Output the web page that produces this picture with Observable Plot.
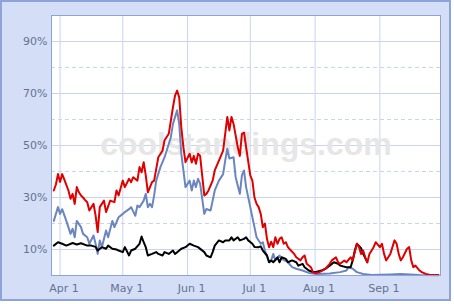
<!DOCTYPE html>
<html><head><meta charset="utf-8">
<script src="https://cdn.jsdelivr.net/npm/d3@7"></script>
<script src="https://cdn.jsdelivr.net/npm/@observablehq/plot@0.6"></script>
<style>body{margin:0;background:#fff}</style>
</head><body><div id="chart"></div>
<script>
// Day offsets are counted from 2008-03-29
const redDays = [0,1,2,3,4,5,7,8,9,10,11,12,13,14,15,16,17,19,20,21,22,24,25,27,29,30,31,33,34,36,37,38,40,41,42,43,44,45,47,48,49,50,52,53,55,56,57,58,59,60,61,62,63,65,66,67,68,69,70,72,73,74,76,77,79,81,82,83,84,85,86,88,89,90,91,92,94,95,96,97,98,99,100,101,102,103,104,105,106,107,108,109,110,111,112,113,115,116,118,119,120,121,123,124,125,127,128,130,132,133,135,136,137,139,140,142,143,145,146,147,148,149,150,151,153,154,156,157,158,159,161,162,163,164,165,166,167,169,170,171,172,173,175,176,178,180,184];
const redPct = [32.7,35,39,36,39,37,32.7,29.5,31.4,27.5,34,32,30.8,30,29,28.2,25,27.6,23,16.7,26.3,28.8,24.4,28.8,28.2,32.7,30.8,36.5,34,37.2,35.9,37.8,36.5,41.7,39.7,43.6,38.5,32,35.9,36.5,41,45.5,48,52,54.5,59.6,64.7,69.2,71.1,68.5,57,49.4,43.6,46.8,43.5,46,43,46.8,46,30.8,31.4,32.7,36.5,40.4,44.2,48,54.5,61,55.8,61,58.3,49.4,46,54.5,55,49.4,38.5,36.5,30,27.6,26.3,23.7,18.6,20,14,10.9,13,10.9,14.7,12.2,14.1,14.7,12.2,12.8,10.9,10,8.3,7,5.8,7,7.7,4.5,3.2,1.3,0.9,1.3,1.7,2.6,4.5,5.8,7,5.1,4.5,5.8,5.1,7,5.8,12.2,11,8.3,9.6,7,5.1,8.3,10.9,12.8,10.9,12.2,8.3,5.8,8.3,10.9,13.5,12.2,8.3,5.8,7,10.3,10.9,5.8,3.2,3.8,1.9,1.3,0.6,0.2,0.2];

const blueDays = [0,2,3,4,6,8,9,10,11,13,14,16,17,19,20,21,22,23,25,26,28,29,31,33,34,36,37,39,40,41,43,44,45,46,47,48,49,51,53,54,56,57,59,60,61,62,63,65,66,67,68,69,70,72,73,75,76,77,79,81,82,83,84,86,87,89,90,91,92,94,95,96,97,99,100,101,103,104,105,106,108,109,112,114,116,119,122,126,132,137,140,141,143,145,148,152,161,166,175,184];
const bluePct = [21,26.3,23.7,25.5,21,16,18,14.7,21,18.6,16,14.7,12.2,15.4,12.2,8.3,13.5,10.9,17.3,14.7,21,18.6,22.4,23.7,24.4,25.5,26.3,23,26.9,26.3,28.8,31.4,26.3,27.6,26.3,30.8,36.5,41.7,45.5,48,53.2,58.3,63.5,58.3,46.8,40.4,34,36.5,32.7,36.5,34,37.2,35.3,23.7,25.6,25,28.8,32.7,36.5,39,44.2,48.7,45,45.5,37.8,31.4,38.5,40.4,34,26.3,22.4,18.6,14.7,12.2,12.8,9.6,5.1,5.8,8.3,5.8,7.7,6.4,5.1,3.2,2.6,1.9,1,0.6,0.8,1.3,1.9,3.2,2.6,1.3,0.6,0.2,0.4,0.6,0.2,0.1];

const blackDays = [0,2,4,6,9,11,13,16,18,20,21,23,25,26,28,30,31,33,34,36,37,39,41,42,43,44,45,47,49,50,52,53,55,57,58,60,61,63,65,67,69,72,73,75,76,77,79,81,82,84,85,86,88,89,91,92,93,95,96,98,99,100,102,103,104,105,107,108,109,111,112,114,116,117,119,120,122,124,125,128,130,132,134,136,137,140,142,143,144,145,147,148,150];
const blackPct = [11.5,12.8,12.2,11.5,12.5,11.9,12.4,11.5,11.5,11,9.6,10.9,10.3,11.5,10.3,10,9.6,9,10.9,7.7,9.6,10.3,12.2,15,12.8,10.9,7.7,8.3,9,8.3,7.7,9,8.3,9.6,8.3,9.6,10.3,10.9,12.2,11.5,10.9,9,7.7,7,9,11.5,13.5,12.8,13.5,13.5,14.7,13.5,14.7,13.5,14.1,14.7,13.5,12.2,11,10.9,11.2,9.6,7.7,5.1,5.8,5.1,7,5.1,7,6.4,5.1,5.8,5.1,3.8,4.5,3.2,1.9,1.3,1.3,1.9,2.6,3.8,5.1,4.5,3.8,3.2,3.2,5.8,9.6,12.2,10.5,8.3,5.1];

const monthTickDates = ["2008-04-01","2008-05-01","2008-06-01","2008-07-01","2008-08-01","2008-09-01"];
const monthTickLabels = ["Apr 1","May 1","Jun 1","Jul 1","Aug 1","Sep 1"];
const yLabelTicks = [10,30,50,70,90];
const yDashTicks = [20,40,60,80];
const watermark = "coolstandings.com";

const day0 = Date.UTC(2008, 2, 29);
const toDate = d => new Date(day0 + d * 864e5);
const series = (days, vals) => days.map((d, i) => ({date: toDate(d), value: vals[i]}));
const red = series(redDays, redPct);
const blue = series(blueDays, bluePct);
const black = series(blackDays, blackPct);
const monthTicks = monthTickDates.map(s => new Date(s + "T00:00:00Z"));

const grid = "#c8d5eb";
const labelColor = "#65728f";

const svg = Plot.plot({
  width: 454, height: 304,
  marginLeft: 51, marginRight: 14, marginTop: 15, marginBottom: 29,
  style: {background: "white", fontFamily: "DejaVu Sans, Verdana, sans-serif", fontSize: "11px", color: labelColor},
  x: {type: "utc", domain: [toDate(-1.1), toDate(185)], label: null},
  y: {domain: [0, 100], label: null},
  marks: [
    Plot.frame({fill: "white", stroke: "none"}),
    Plot.ruleY(yDashTicks, {stroke: grid, strokeDasharray: "4,3"}),
    Plot.ruleY(yLabelTicks, {stroke: grid}),
    Plot.ruleX(monthTicks, {stroke: grid}),
    Plot.text([watermark], {text: d => d, frameAnchor: "middle", dy: -1, fontSize: 32, fontWeight: "bold", fontFamily: "Liberation Sans, Arial, sans-serif", fill: "#e6e6e6"}),
    Plot.line(blue, {x: "date", y: "value", stroke: "#6b85c0", strokeWidth: 2}),
    Plot.line(black, {x: "date", y: "value", stroke: "#000000", strokeWidth: 2}),
    Plot.line(red, {x: "date", y: "value", stroke: "#e00000", strokeWidth: 2}),
    Plot.frame({stroke: "#8ea3d9"}),
    Plot.axisY(yLabelTicks, {tickSize: 0, tickPadding: 4, label: null, tickFormat: d => d + "%", fill: labelColor}),
    Plot.axisX(monthTicks, {tickSize: 0, tickPadding: 9, dx: 4, label: null, fill: labelColor,
      tickFormat: d => monthTickLabels[monthTicks.findIndex(t => +t === +d)]})
  ]
});

d3.select(svg).insert("rect", ":first-child")
  .attr("x", 1).attr("y", 1).attr("width", 449).attr("height", 299)
  .attr("fill", "#d4dff7").attr("stroke", "#8ea3d9").attr("stroke-width", 2);

document.getElementById("chart").appendChild(svg);
</script>
</body></html>
